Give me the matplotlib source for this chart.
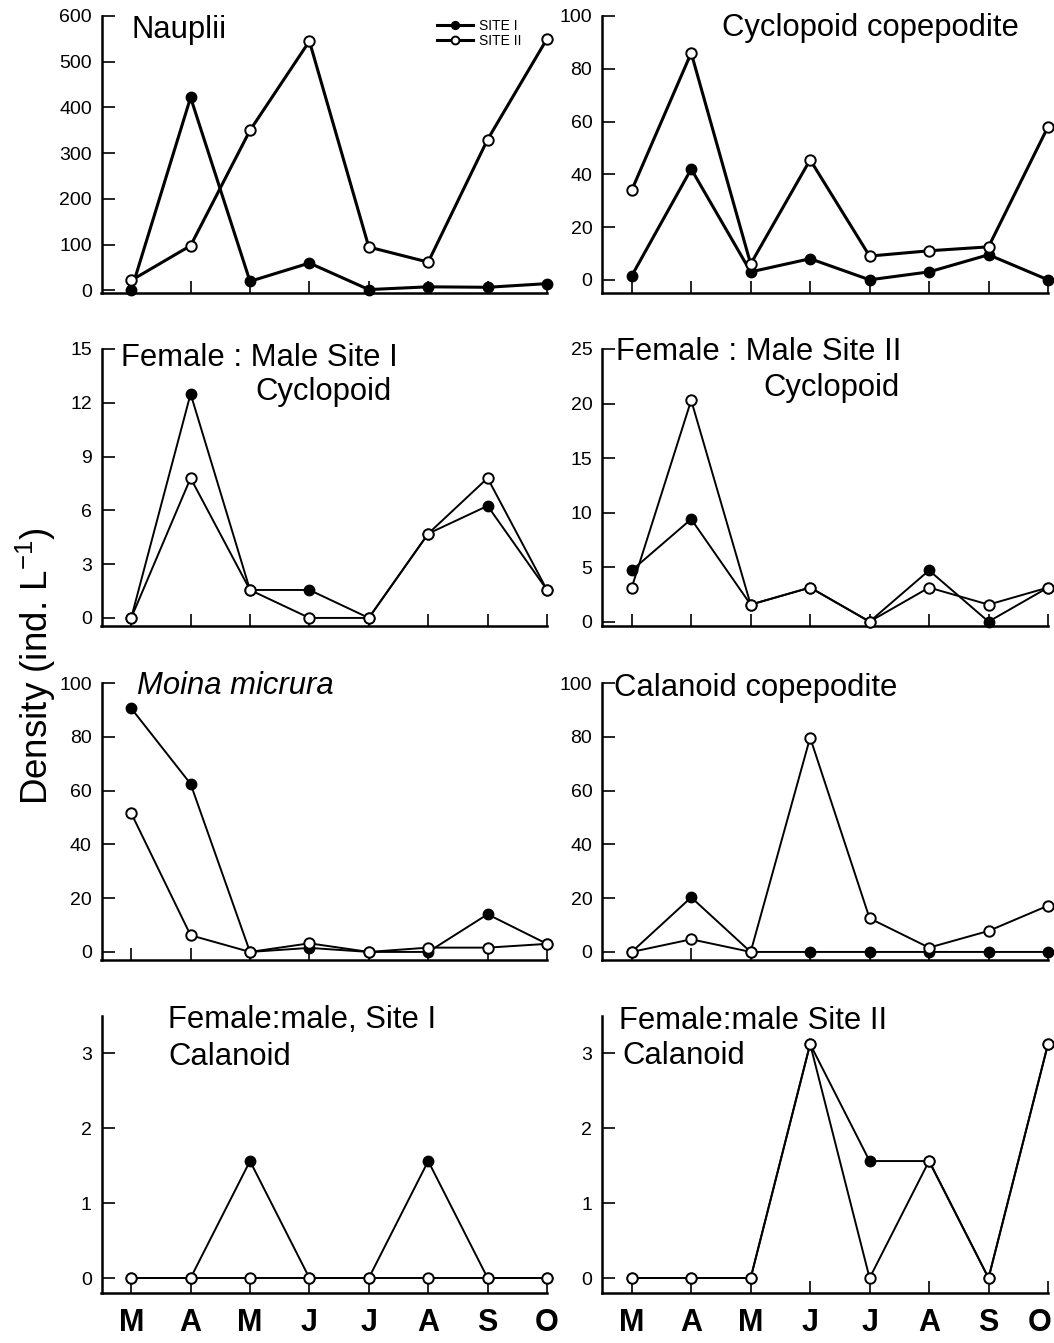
import numpy as np
import matplotlib.pyplot as plt
from matplotlib.transforms import ScaledTranslation

plt.rcParams['font.family'] = ['Liberation Sans', 'DejaVu Sans']

months = ['M', 'A', 'M', 'J', 'J', 'A', 'S', 'O']

# densities (site I = filled, site II = open)
nauplii_s1 = [0, 422, 20, 60, 2, 8, 7, 15]
nauplii_s2 = [22, 98, 350, 545, 95, 62, 330, 550]
cyc_cop_s1 = [1.5, 42, 3, 8, 0, 3, 9.5, 0]
cyc_cop_s2 = [34, 86, 6, 45.5, 9, 11, 12.5, 58]
cyc_fm1_s1 = [0, 12.5, 1.56, 1.56, 0, 4.7, 6.25, 1.56]
cyc_fm1_s2 = [0, 7.8, 1.56, 0, 0, 4.7, 7.8, 1.56]
cyc_fm2_s1 = [4.7, 9.4, 1.56, 3.125, 0, 4.7, 0, 3.125]
cyc_fm2_s2 = [3.125, 20.3, 1.56, 3.125, 0, 3.125, 1.56, 3.125]
moina_s1 = [90.6, 62.5, 0, 1.5, 0, 0, 14, 3]
moina_s2 = [51.6, 6.2, 0, 3.2, 0, 1.6, 1.6, 3]
cal_cop_s1 = [0, 20.3, 0, 0, 0, 0, 0, 0]
cal_cop_s2 = [0, 4.7, 0, 79.7, 12.5, 1.6, 7.8, 17.2]
cal_fm1_s1 = [0, 0, 1.5625, 0, 0, 1.5625, 0, 0]
cal_fm1_s2 = [0, 0, 0, 0, 0, 0, 0, 0]
cal_fm2_s1 = [0, 0, 0, 3.125, 1.5625, 1.5625, 0, 3.125]
cal_fm2_s2 = [0, 0, 0, 3.125, 0, 1.5625, 0, 3.125]

W, H = 1054, 1343
fig = plt.figure(figsize=(W / 100, H / 100), dpi=100)


def px_rect(x0, x1, ytop, ybot):
    return [x0 / W, 1 - ybot / H, (x1 - x0) / W, (ybot - ytop) / H]


def label(x, y, s, **kw):
    fig.text(x / W, 1 - y / H, s, fontsize=22.3, va='center', ha='left', **kw)


left = (101.5, 547)
right = (602, 1048)
rows = [(16, 293), (349, 626), (683, 960), (1016, 1293)]

panels = [
    (left, rows[0], nauplii_s1, nauplii_s2, (-5.5, 600), np.arange(0, 601, 100), 2.2),
    (right, rows[0], cyc_cop_s1, cyc_cop_s2, (-5, 100), np.arange(0, 101, 20), 2.2),
    (left, rows[1], cyc_fm1_s1, cyc_fm1_s2, (-0.45, 15), np.arange(0, 16, 3), 1.4),
    (right, rows[1], cyc_fm2_s1, cyc_fm2_s2, (-0.4, 25), np.arange(0, 26, 5), 1.4),
    (left, rows[2], moina_s1, moina_s2, (-3, 100), np.arange(0, 101, 20), 1.4),
    (right, rows[2], cal_cop_s1, cal_cop_s2, (-3, 100), np.arange(0, 101, 20), 1.4),
    (left, rows[3], cal_fm1_s1, cal_fm1_s2, (-0.2, 3.5), np.arange(0, 4, 1), 1.4),
    (right, rows[3], cal_fm2_s1, cal_fm2_s2, (-0.2, 3.5), np.arange(0, 4, 1), 1.4),
]

x = np.arange(len(months))
axes = []
for i, (col, row, s1, s2, ylim, yt, lw) in enumerate(panels):
    ax = fig.add_axes(px_rect(col[0], col[1], row[0], row[1]))
    ax.plot(x, s1, '-o', color='black', lw=lw, ms=7.5, mfc='black', mec='black',
            label='SITE I', clip_on=False, zorder=3)
    ax.plot(x, s2, '-o', color='black', lw=lw, ms=7.5, mfc='white', mec='black', mew=1.4,
            label='SITE II', clip_on=False, zorder=3)
    ax.set_xlim(-0.5, 7)
    ax.set_ylim(*ylim)
    ax.set_yticks(yt)
    ax.set_xticks(x)
    ax.spines['top'].set_visible(False)
    ax.spines['right'].set_visible(False)
    for sp in ('left', 'bottom'):
        ax.spines[sp].set_linewidth(1.8)
    ax.tick_params(direction='in', length=9, width=1.2, labelsize=14, pad=7)
    if i >= 6:
        ax.set_xticklabels(months, fontsize=22, fontweight='bold')
        ax.tick_params(axis='x', pad=11)
    else:
        ax.set_xticklabels([])
    axes.append(ax)

# last month label on the right panel sits a little left of its tick
last = axes[7].get_xticklabels()[-1]
last.set_transform(last.get_transform() + ScaledTranslation(-0.08, 0, fig.dpi_scale_trans))

axes[0].legend(loc='upper left', bbox_to_anchor=(0.725, 1.035), frameon=False,
               fontsize=10, handlelength=2.6, labelspacing=0.1, handletextpad=0.4,
               markerscale=0.75)

label(131, 30, 'Nauplii')
label(722, 28, 'Cyclopoid copepodite')
label(121, 358, 'Female : Male Site I')
label(255, 392, 'Cyclopoid')
label(616, 352, 'Female : Male Site II')
label(763, 388, 'Cyclopoid')
label(137, 686, 'Moina micrura', style='italic')
label(614, 688, 'Calanoid copepodite')
label(168, 1020, 'Female:male, Site I')
label(168, 1057, 'Calanoid')
label(619, 1021, 'Female:male Site II')
label(622, 1056, 'Calanoid')

fig.text(36 / W, 1 - 666 / H, 'Density (ind. L$^{\\mathregular{-1}}$)', rotation=90,
         fontsize=26.5, va='center', ha='center')

fig.savefig('out.png', dpi=100)
